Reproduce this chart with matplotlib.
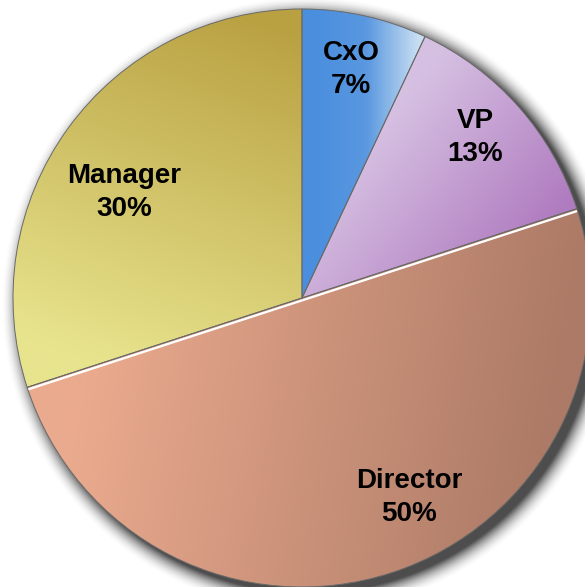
import numpy as np
import matplotlib.pyplot as plt
from matplotlib.colors import LinearSegmentedColormap

labels = ["CxO", "VP", "Director", "Manager"]
shares = [7, 13, 50, 30]

# gradient colours (stops) and gradient direction in degrees
grad = [(["#4a8ede", "#5a98e0", "#c8def2"], 0),
        (["#d6c0e2", "#b07cc0"], -40),
        (["#eaaa8e", "#ac7a66"], -10),
        (["#e8e48e", "#b9a142"], 70)]
# label positions (in pie radius units)
label_pos = [(0.17, 0.79), (0.60, 0.555), (0.37, -0.69), (-0.615, 0.365)]

W, H = 585, 587
cx, cy, R = 302, 298, 289

fig = plt.figure(figsize=(W / 100, H / 100), dpi=100)
ax = fig.add_axes([0, 0, 1, 1])

# soft drop shadow
xs = np.linspace(-1.3, 1.3, 600)
X, Y = np.meshgrid(xs, xs)
d = np.hypot(X - 0.025, Y + 0.022) - 1.0
a = np.clip(1 - d / 0.07, 0, 1) ** 2 * 0.7
shadow = np.zeros((600, 600, 4))
shadow[..., 3] = a
ax.imshow(shadow, extent=(-1.3, 1.3, -1.3, 1.3), origin="lower", zorder=1,
          interpolation="bilinear")

wedges, _ = ax.pie(shares, startangle=90, counterclock=False, radius=1,
                   wedgeprops=dict(edgecolor="#6a6a6a", linewidth=0.7))

g = np.linspace(-1, 1, 400)
GX, GY = np.meshgrid(g, g)
for w, (stops, ang) in zip(wedges, grad):
    w.set_facecolor("none")
    w.set_zorder(4)
    t = np.deg2rad(ang)
    proj = GX * np.cos(t) + GY * np.sin(t)
    verts = w.get_path().vertices
    pv = verts[:, 0] * np.cos(t) + verts[:, 1] * np.sin(t)
    v = (proj - pv.min()) / (pv.max() - pv.min())
    cmap = LinearSegmentedColormap.from_list("g", stops)
    im = ax.imshow(v, cmap=cmap, extent=(-1, 1, -1, 1), origin="lower",
                   vmin=0.1, vmax=0.95, zorder=3, interpolation="bilinear")
    im.set_clip_path(w)

# white highlight along the Director slice boundaries
th = np.cumsum([0] + shares) / 100 * 360
for k in (2, 3):
    a0 = np.deg2rad(90 - th[k])
    off = 0.008 if k == 2 else -0.008
    n = np.array([np.sin(a0), -np.cos(a0)]) * off
    ax.plot([n[0], np.cos(a0) * 0.998 + n[0]], [n[1], np.sin(a0) * 0.998 + n[1]],
            color="white", lw=1.6, zorder=5, solid_capstyle="butt")

for lab, val, (x, y) in zip(labels, shares, label_pos):
    ax.text(x, y, f"{lab}\n{val}%", ha="center", va="center", fontsize=20,
            fontweight="bold", family="Liberation Sans", linespacing=1.32,
            zorder=6)

ax.set_aspect("auto")
ax.set_xlim(-cx / R, (W - cx) / R)
ax.set_ylim(-(H - cy) / R, cy / R)
ax.axis("off")

fig.savefig("out.png", dpi=100, facecolor="white")
